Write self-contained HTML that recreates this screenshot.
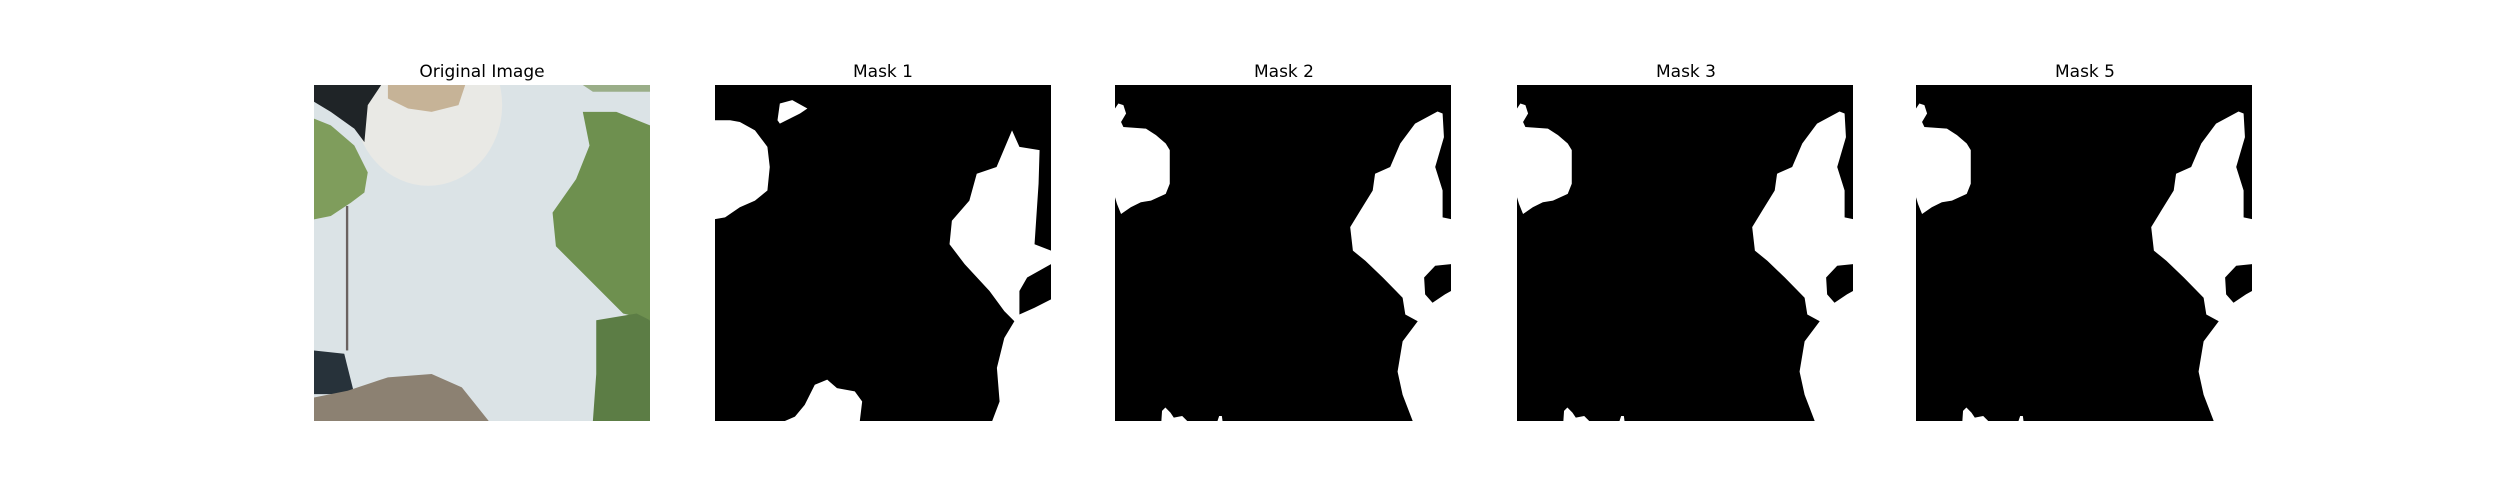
<!DOCTYPE html>
<html><head><meta charset="utf-8"><style>
html,body{margin:0;padding:0;background:#fff;width:2500px;height:500px;overflow:hidden}
svg{display:block}
text{font-family:"DejaVu Sans","Liberation Sans",sans-serif;font-size:17px;fill:#000}
</style></head><body>
<svg width="2500" height="500">
<defs>
<g id="mask-common">
  <rect x="0" y="0" width="100" height="100" fill="#000"/>
  <polygon fill="#fff" points="0,7 1,5.5 2.5,6 3.3,8.5 1.8,11 2.5,12.5 9.2,13 12.2,14.9 15.1,17.4 16.3,19.4 16.3,29.4 15.1,32.4 10.7,34.4 7.7,34.9 4.7,36.4 1.8,38.4 0.6,35.4 0,33.4"/>
  <polygon fill="#fff" points="96,7.9 97.5,8.5 97.9,15.5 95.3,24.4 97.5,31.4 97.5,39.4 100,39.9 100,53.3 95.3,53.8 92,57.3 92.3,62.3 94.5,64.8 98.2,62.3 100,61.3 100,100 88.6,100 85.6,92.2 84.1,85.3 85.6,76.3 90.1,70.3 86.4,68.3 85.6,63.3 79.7,57.3 74.5,52.3 70.8,49.3 70,42.3 73,37.4 76.7,31.4 77.4,26.4 81.9,24.4 84.9,17.4 89.3,11.5"/>
  <polygon fill="#fff" points="13.8,100 14,97 15,96 16.5,97.5 17.5,99 20,98.5 21.5,100"/>
  <polygon fill="#fff" points="30.5,100 31,98.5 31.8,98.5 32,100"/>
</g>
</defs>

<text x="482" y="77" text-anchor="middle">Original Image</text>
<svg x="314" y="85" width="336" height="336" viewBox="0 0 100 100" preserveAspectRatio="none">
  <rect width="100" height="100" fill="#dbe3e6"/>
  <ellipse cx="34" cy="6" rx="22" ry="24" fill="#e9e9e5"/>
  <polygon points="0,0 20,0 16,6 15,17 12,13 5,8 0,5" fill="#1f2427"/>
  <polygon points="22,0 45,0 43,6 35,8 28,7 22,4" fill="#c6b397"/>
  <polygon points="0,10 5,12 12,18 16,26 15,32 11,35 5,39 0,40" fill="#7f9d5c"/>
  <rect x="9.5" y="36" width="0.7" height="43" fill="#6a6260"/>
  <polygon points="0,79 9,80 12,92 0,92" fill="#27323a"/>
  <polygon points="80,8 90,8 100,12 100,70 92,68 80,56 72,48 71,38 78,28 82,18" fill="#6e904f"/>
  <polygon points="84,70 96,68 100,70 100,100 83,100 84,86" fill="#5c7d45"/>
  <polygon points="0,93 10,91 22,87 35,86 44,90 52,100 0,100" fill="#8c8172"/>
  <polygon points="80,0 100,0 100,2 83,2" fill="#9aae88"/>
</svg>

<text x="883" y="77" text-anchor="middle">Mask 1</text>
<svg x="715" y="85" width="336" height="336" viewBox="0 0 100 100" preserveAspectRatio="none">
  <rect width="100" height="100" fill="#000"/>
  <polygon fill="#fff" points="0,10.5 4.5,10.5 7.4,11 11.9,13.5 15.6,18.4 16.3,24.4 15.6,31.4 11.9,34.4 7.4,36.4 3,39.4 0,39.9"/>
  <polygon fill="#fff" points="19.3,5.5 23,4.5 27.5,7 25.3,8.5 19.3,11.5 18.6,10.5"/>
  <polygon fill="#fff" points="88.4,13.5 90.6,18.4 96.6,19.4 96.3,29.4 95.1,47.4 100,49.3 100,53.3 92.9,57.3 90.6,61.3 90.6,68.3 95.1,66.3 100,63.8 100,100 82.5,100 84.7,94.2 83.9,84.2 86.1,75.3 89.1,70.3 86.1,67.3 81.7,61.3 74.3,53.3 69.8,47.4 70.5,40.4 75.7,34.4 77.9,26.4 83.8,24.4"/>
  <polygon fill="#fff" points="20.8,100 23.8,98.7 26.7,95.2 29.7,89.2 33.4,87.7 36.3,90.2 41.6,91.2 43.8,94.2 43.1,100"/>
</svg>

<text x="1284" y="77" text-anchor="middle">Mask 2</text>
<svg x="1115" y="85" width="336" height="336" viewBox="0 0 100 100" preserveAspectRatio="none"><use href="#mask-common"/></svg>

<text x="1686" y="77" text-anchor="middle">Mask 3</text>
<svg x="1517" y="85" width="336" height="336" viewBox="0 0 100 100" preserveAspectRatio="none"><use href="#mask-common"/></svg>

<text x="2085" y="77" text-anchor="middle">Mask 5</text>
<svg x="1916" y="85" width="336" height="336" viewBox="0 0 100 100" preserveAspectRatio="none"><use href="#mask-common"/></svg>
</svg>
</body></html>
